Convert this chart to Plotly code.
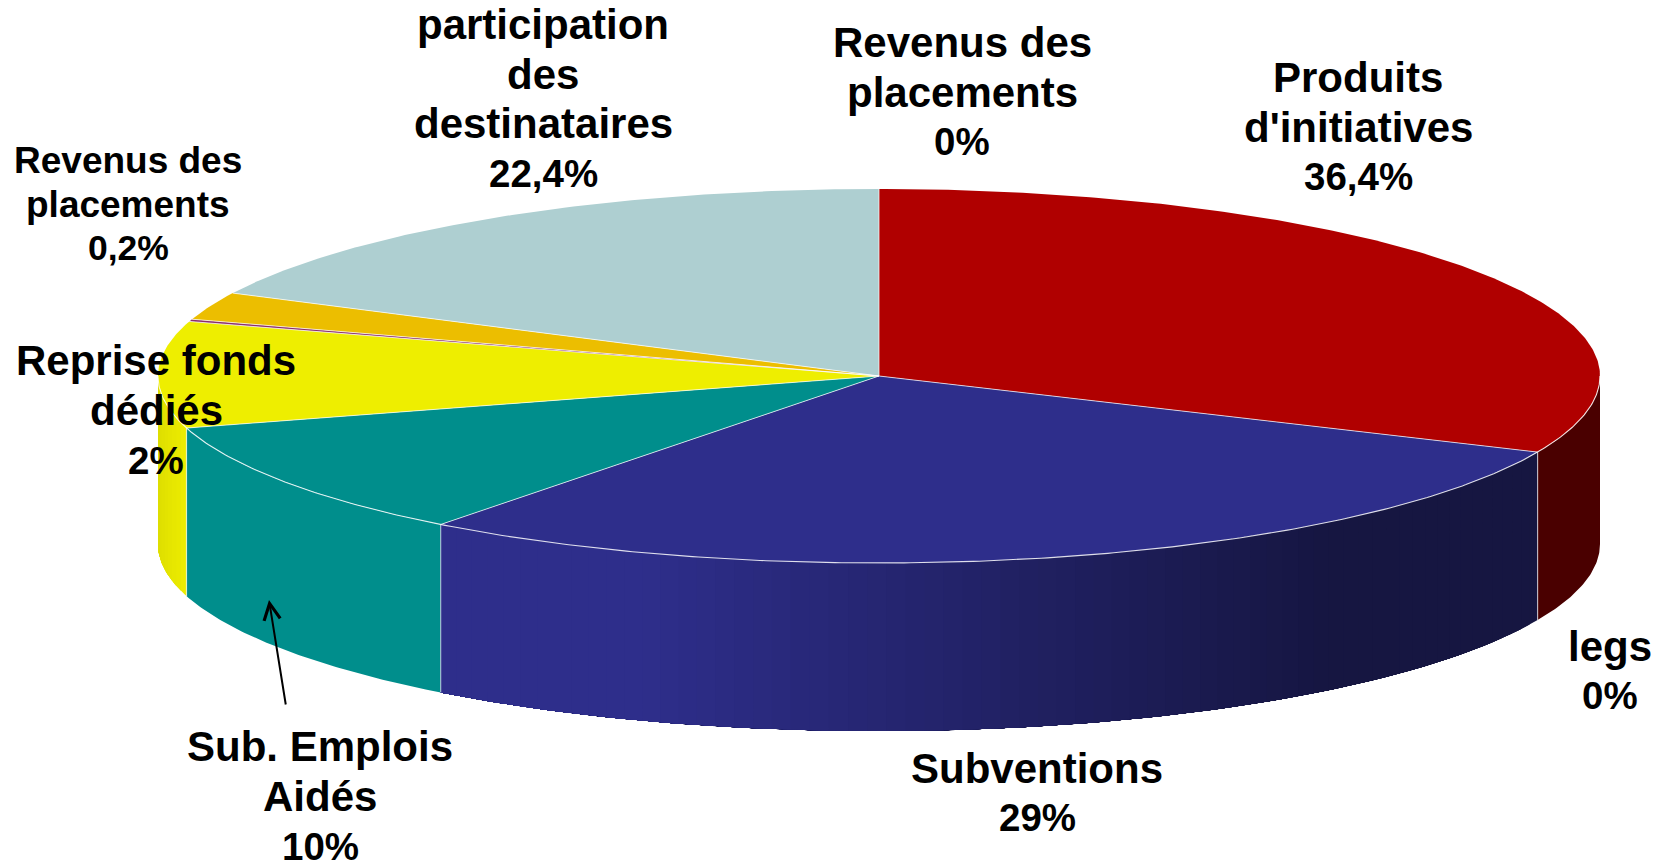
import math
import plotly.graph_objects as go

# Slice shares (%)
slices = ["Produits d'initiatives", "Subventions", "Sub. Emplois Aidés", "Reprise fonds dédiés",
          "Revenus des placements (0,2%)", "Autre", "participation des destinataires"]
shares = [31.67, 28.73, 10.11, 9.2, 0.2, 2.4, 17.69]
top_colors = ["#B00000", "#2E2E8B", "#008E8C", "#EEEE00", "#8B2E6B", "#ECBE00", "#AECFD1"]

label_lines = [["participation", "des", "destinataires", "22,4%"],
               ["Revenus des", "placements", "0%"],
               ["Produits", "d'initiatives", "36,4%"],
               ["Revenus des", "placements", "0,2%"],
               ["Reprise fonds", "dédiés", "2%"],
               ["legs", "0%"],
               ["Subventions", "29%"],
               ["Sub. Emplois", "Aidés", "10%"]]
label_x = [543, 962, 1358, 128, 156, 1610, 1037, 320]
label_y = [99, 92, 127, 204, 410, 671, 793, 796]
label_sizes = [42, 42, 42, 37, 42, 42, 42, 42]
percent_sizes = [38.5, 38.5, 38.5, 35.5, 38.5, 38.5, 38.5, 38.5]
label_spacing = [49.5, 49.5, 49.5, 43.7, 50, 49.5, 49.5, 50]

CX, CY, RX, RY, DEPTH = 879, 376, 721, 187, 168
W, H = 1671, 863


def pt(deg, dy=0.0):
    r = math.radians(deg)
    return CX + RX * math.sin(r), CY - RY * math.cos(r) + dy


def arc(a, b, dy=0.0, step=1.0):
    n = max(2, int(abs(b - a) / step) + 1)
    return [pt(a + (b - a) * i / (n - 1), dy) for i in range(n)]


def shade(hex_color, f):
    c = [int(hex_color[i:i + 2], 16) for i in (1, 3, 5)]
    return "rgb({},{},{})".format(*[round(v * f) for v in c])


def side_factor(index, x):
    if index == 0:
        return 0.42
    if index == 1:
        t = min(1.0, max(0.0, (x - 640) / (1330 - 640)))
        return 1 - 0.53 * t
    if index == 3:
        return 0.93 + 0.07 * min(1.0, max(0.0, (x - 157) / 30))
    return 1.0


total = sum(shares)
edges = [0.0]
for s in shares:
    edges.append(edges[-1] + 360.0 * s / total)

fig = go.Figure()


def poly(points, fill):
    fig.add_trace(go.Scatter(x=[p[0] for p in points], y=[p[1] for p in points],
                             mode="lines", fill="toself", fillcolor=fill,
                             line=dict(color=fill, width=0),
                             hoverinfo="skip", showlegend=False))


def stroke(points, color="rgba(255,255,255,0.85)", width=1.1):
    fig.add_trace(go.Scatter(x=[p[0] for p in points], y=[p[1] for p in points],
                             mode="lines", line=dict(color=color, width=width),
                             hoverinfo="skip", showlegend=False))


# Side wall, visible between 90° and 270°. Each band runs on under the next one,
# so no white shows through between bands.
for i, color in enumerate(top_colors):
    a = max(edges[i], 90.0)
    b = min(edges[i + 1], 270.0)
    if b <= a:
        continue
    n = max(1, int((b - a) / 1.5)) if i in (1, 3) else 1
    for k in range(n):
        a0 = a + (b - a) * k / n
        a1 = a + (b - a) * (k + 1) / n
        up = arc(a0, b, 0, 0.5)
        down = arc(b, a0, DEPTH, 0.5)
        poly(up + down, shade(color, side_factor(i, pt((a0 + a1) / 2)[0])))

# Vertical seams on the wall
for e in edges[1:4]:
    stroke([pt(e), pt(e, DEPTH)], "rgba(255,255,255,0.6)", 1.2)

# Top face
for i, color in enumerate(top_colors):
    poly([(CX, CY)] + arc(edges[i], edges[i + 1], 0, 0.5) + [(CX, CY)], color)

for e in edges[:-1]:
    stroke([(CX, CY), pt(e)], "rgba(255,255,255,0.8)", 0.9)
stroke(arc(90, 270, 0, 0.5), "rgba(255,255,255,0.85)", 1.1)

annotations = []
for lines, x, y, size, psize, gap in zip(label_lines, label_x, label_y, label_sizes,
                                         percent_sizes, label_spacing):
    for j, line in enumerate(lines):
        annotations.append(dict(x=x, y=y + (j - (len(lines) - 1) / 2) * gap, text=line,
                                showarrow=False, xanchor="center", yanchor="middle",
                                font=dict(family="Liberation Sans",
                                          size=psize if line.endswith("%") else size,
                                          color="black", weight="bold")))
annotations.append(dict(x=269, y=600, ax=286, ay=706, xref="x", yref="y", axref="x", ayref="y",
                        text="", showarrow=True, arrowhead=5, arrowsize=1.6, arrowwidth=2,
                        arrowcolor="black"))

fig.update_layout(width=W, height=H, margin=dict(l=0, r=0, t=0, b=0),
                  paper_bgcolor="white", plot_bgcolor="white", showlegend=False,
                  xaxis=dict(range=[0, W], visible=False, fixedrange=True),
                  yaxis=dict(range=[H, 0], visible=False, fixedrange=True),
                  font=dict(family="Liberation Sans", color="black"),
                  annotations=annotations)

fig.write_html("out.html", config={"displayModeBar": False},
               post_script="document.body.style.margin='0';document.documentElement.style.overflow='hidden';")
